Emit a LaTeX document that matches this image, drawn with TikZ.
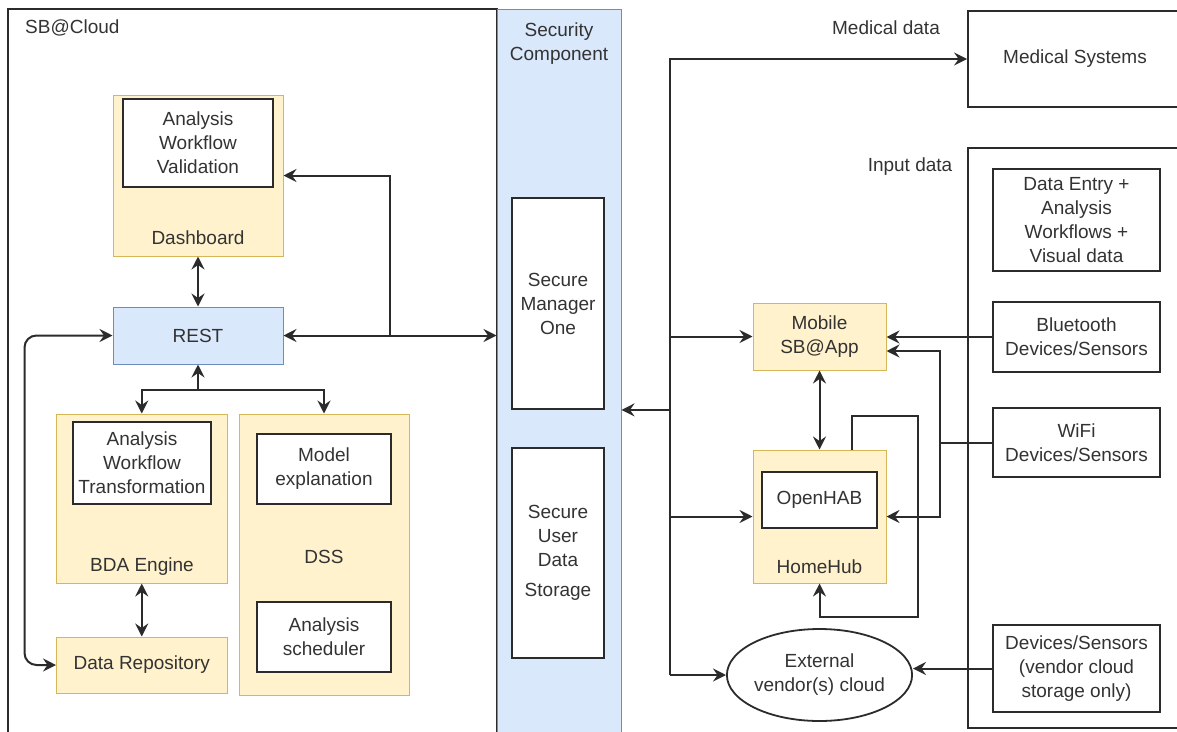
\documentclass[tikz,border=0pt]{standalone}
\usepackage{fontspec}
\setmainfont{Liberation Sans}
\usetikzlibrary{arrows.meta,calc,shapes.geometric}
\definecolor{lineclr}{HTML}{2B2B2B}
\definecolor{txtclr}{HTML}{333333}
\definecolor{yfill}{HTML}{FFF2CC}
\definecolor{ydraw}{HTML}{D6B656}
\definecolor{bfill}{HTML}{DAE8FC}
\definecolor{bdraw}{HTML}{6C8EBF}
\begin{document}
\begin{tikzpicture}[x=1pt,y=-1pt,
  every node/.style={font=\fontsize{19}{24}\selectfont, text=txtclr, inner sep=0pt, align=center},
  ybox/.style={rectangle, fill=yfill, draw=ydraw, line width=1pt},
  bbox/.style={rectangle, fill=bfill, draw=bdraw, line width=1pt},
  wbox/.style={rectangle, fill=white, draw=lineclr, line width=1.8pt},
  frame/.style={rectangle, draw=lineclr, line width=1.8pt},
  link/.style={draw=lineclr, line width=2pt},
  fwd/.style={link, -{Stealth[length=13pt,width=13pt,inset=4.5pt]}},
  both/.style={link, {Stealth[length=13pt,width=13pt,inset=4.5pt]}-{Stealth[length=13pt,width=13pt,inset=4.5pt]}}
]
\path[use as bounding box] (0,0) rectangle (1177,731);
\clip (0,0) rectangle (1177,731);

% ---------- cloud side ----------
\node[frame, minimum width=489pt, minimum height=736pt] (cloud) at (252.5,377) {};
\node[anchor=west] (cloudlbl) at (25,28) {SB@Cloud};

\node[bbox, minimum width=124pt, minimum height=736pt] (sec) at (559,377) {};
\node (seclbl) at (559,44) {Security\\Component};
\node[wbox, minimum width=92pt, minimum height=211pt] (sm1) at (558,303.5) {Secure\\Manager\\One};
\node[wbox, minimum width=92pt, minimum height=210pt] (suds) at (558,553) {Secure\\User\\Data\\[6pt]Storage};

\node[ybox, minimum width=170pt, minimum height=161pt] (dash) at (198,175.5) {};
\node[wbox, minimum width=150pt, minimum height=88pt] (awv) at (198,143) {Analysis\\Workflow\\Validation};
\node (dashlbl) at (198,238) {Dashboard};

\node[bbox, minimum width=170pt, minimum height=57pt] (rest) at (198,335.5) {REST};

\node[ybox, minimum width=170.5pt, minimum height=169pt] (bda) at (141.75,498.5) {};
\node[wbox, minimum width=138pt, minimum height=82pt] (awt) at (142,463) {Analysis\\Workflow\\Transformation};
\node (bdalbl) at (142,567) {BDA Engine};

\node[ybox, minimum width=170pt, minimum height=281pt] (dss) at (324,554.5) {};
\node[wbox, minimum width=134pt, minimum height=70pt] (modexp) at (324,469) {Model\\explanation};
\node (dsslbl) at (324,557) {DSS};
\node[wbox, minimum width=134pt, minimum height=70pt] (sched) at (324,637) {Analysis\\scheduler};

\node[ybox, minimum width=170.5pt, minimum height=56pt] (repo) at (141.75,665) {Data Repository};

% ---------- home / device side ----------
\node[frame, minimum width=214pt, minimum height=96pt] (medsys) at (1075,59) {Medical Systems};
\node (medlbl) at (886,28) {Medical data};

\node[frame, minimum width=222pt, minimum height=580pt] (inbox) at (1079,438) {};
\node (inlbl) at (910,167) {Input data};

\node[wbox, minimum width=167pt, minimum height=102pt] (dentry) at (1076.5,220) {Data Entry +\\Analysis\\Workflows +\\Visual data};
\node[wbox, minimum width=167pt, minimum height=70pt] (bt) at (1076.5,337) {Bluetooth\\Devices/Sensors};
\node[wbox, minimum width=167pt, minimum height=69pt] (wifi) at (1076.5,442.5) {WiFi\\Devices/Sensors};
\node[wbox, minimum width=167pt, minimum height=87pt] (vdev) at (1076.5,668.5) {Devices/Sensors\\(vendor cloud\\storage only)};

\node[ybox, minimum width=133pt, minimum height=67pt] (mobile) at (819.5,336.5) {Mobile\\SB@App};
\node[ybox, minimum width=133pt, minimum height=133pt] (hub) at (819.5,516.5) {};
\node[wbox, minimum width=115pt, minimum height=56pt] (ohab) at (819.5,500) {OpenHAB};
\node (hublbl) at (819.5,567) {HomeHub};

\node[ellipse, draw=lineclr, fill=white, line width=1.8pt, minimum width=165pt, minimum height=92pt] (ext) at (819.5,675) {External\\vendor(s) cloud};

% ---------- connectors: cloud side ----------
\coordinate (br1) at (389.5,335.5);
\coordinate (jn) at (198,390);
\coordinate (lx) at (24.5,665);

\draw[both] (dash.south) -- (rest.north);
\draw[both] (rest.east) -- (sec.west |- rest.east);
\draw[fwd] (br1) |- (dash.east);
\draw[fwd] (jn) -- (rest.south);
\draw[fwd] (jn) -| (bda.north);
\draw[fwd] (jn) -| (dss.north);
\draw[both] (bda.south) -- (repo.north);
\draw[both,rounded corners=12pt] (rest.west) -| (lx) -- (repo.west);

% ---------- connectors: home side ----------
\coordinate (busbot) at (670,675);
\coordinate (wx) at (940,442.5);
\coordinate (lpA) at (852,416);
\coordinate (lpB) at (918,617);

\draw[fwd] (busbot) |- (medsys.west);
\draw[fwd] (busbot) -- (ext.west);
\draw[fwd] (busbot |- mobile.west) -- (mobile.west);
\draw[fwd] (busbot |- hub.west) -- (hub.west);
\draw[fwd] (busbot |- sm1.south) -- (sec.east |- sm1.south);

\draw[fwd] (bt.west) -- (mobile.east |- bt.west);
\draw[link] (wifi.west) -- (wx);
\draw[fwd] (wx) |- ($(mobile.east)+(0,14.5)$);
\draw[fwd] (wx) |- (hub.east);
\draw[both] (mobile.south) -- (hub.north);
\draw[fwd] (hub.north -| lpA) -- (lpA) -| (lpB) -| (hub.south);
\draw[fwd] (vdev.west) -- (ext.east |- vdev.west);
\end{tikzpicture}
\end{document}
